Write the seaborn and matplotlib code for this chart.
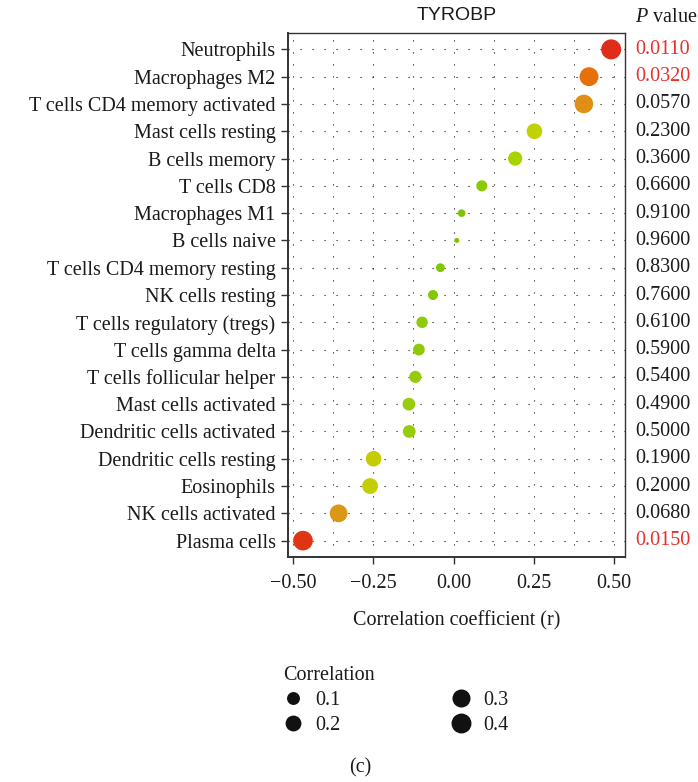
import numpy as np
import pandas as pd
import matplotlib
matplotlib.use("Agg")
import matplotlib.pyplot as plt
import seaborn as sns
from matplotlib.colors import LinearSegmentedColormap
from matplotlib.lines import Line2D
from matplotlib.ticker import MultipleLocator
from matplotlib.transforms import blended_transform_factory

# Immune cell types, top to bottom
cell_types = [
    "Neutrophils", "Macrophages M2", "T cells CD4 memory activated",
    "Mast cells resting", "B cells memory", "T cells CD8", "Macrophages M1",
    "B cells naive", "T cells CD4 memory resting", "NK cells resting",
    "T cells regulatory (tregs)", "T cells gamma delta",
    "T cells follicular helper", "Mast cells activated",
    "Dendritic cells activated", "Dendritic cells resting", "Eosinophils",
    "NK cells activated", "Plasma cells",
]
# Correlation coefficient with TYROBP
correlation = [0.491, 0.422, 0.406, 0.252, 0.192, 0.088, 0.025, 0.010,
               -0.041, -0.064, -0.098, -0.108, -0.119, -0.139, -0.138,
               -0.249, -0.260, -0.358, -0.469]
# P values
p_values = [0.011, 0.032, 0.057, 0.23, 0.36, 0.66, 0.91, 0.96, 0.83, 0.76,
            0.61, 0.59, 0.54, 0.49, 0.50, 0.19, 0.20, 0.068, 0.015]
p_labels = ["0.0110", "0.0320", "0.0570", "0.2300", "0.3600", "0.6600",
            "0.9100", "0.9600", "0.8300", "0.7600", "0.6100", "0.5900",
            "0.5400", "0.4900", "0.5000", "0.1900", "0.2000", "0.0680",
            "0.0150"]
legend_levels = [0.1, 0.2, 0.3, 0.4]
x_ticks = [-0.50, -0.25, 0.00, 0.25, 0.50]

df = pd.DataFrame({"cell": cell_types, "r": correlation, "p": p_values})
df["abs_r"] = df["r"].abs()

W, H, DPI = 698, 782, 100
sns.set_style("white")
plt.rcParams["font.family"] = ["Liberation Serif", "DejaVu Serif"]
plt.rcParams["mathtext.fontset"] = "custom"
plt.rcParams["mathtext.it"] = "Liberation Serif:italic"
plt.rcParams["mathtext.rm"] = "Liberation Serif"
FS = 14.5
TXT = "#1a1a1a"

# p value colour scale: red (significant) -> amber -> yellow-green -> green
pcmap = LinearSegmentedColormap.from_list("pval", [
    (0.00, "#d91f1c"), (0.015, "#e23a16"), (0.032, "#e8720b"),
    (0.06, "#df9416"), (0.075, "#d99b13"), (0.19, "#c6cd02"),
    (0.25, "#bdd500"), (0.36, "#a8d300"), (0.50, "#98cb10"),
    (0.65, "#89ca04"), (1.00, "#78c200"),
])

# size scale: diameter grows with sqrt of rescaled |r|
rmin, rmax = df["abs_r"].min(), df["abs_r"].max()
D_MIN, D_MAX = 5.0, 20.0  # pixels


def diam_pt(v):
    t = np.clip((v - rmin) / (rmax - rmin), 0, 1)
    return (D_MIN + (D_MAX - D_MIN) * np.sqrt(t)) * 72 / DPI


size_map = {v: diam_pt(v) ** 2 for v in df["abs_r"]}

fig = plt.figure(figsize=(W / DPI, H / DPI), dpi=DPI)
L, R, T, B = 288, 625, 33, 557
ax = fig.add_axes([L / W, 1 - B / H, (R - L) / W, (B - T) / H])

sns.scatterplot(data=df, x="r", y="cell", hue="p", palette=pcmap,
                hue_norm=(0, 1), size="abs_r", sizes=size_map,
                linewidth=0, legend=False, ax=ax, zorder=3)

n = len(cell_types)
ax.set_ylim(n - 1 + 0.6, -0.6)
ax.set_xlim(-0.5156, 0.534)
ax.set_xticks(x_ticks)
ax.set_xticklabels([f"{t:.2f}".replace("-", "\u2212") for t in x_ticks])
ax.xaxis.set_minor_locator(MultipleLocator(0.125))

grid_kw = dict(color="#111111", linewidth=0.8, linestyle=(0, (1, 9.8)))
ax.grid(True, which="both", axis="x", **grid_kw)
ax.grid(True, which="major", axis="y", **grid_kw)
ax.set_axisbelow(True)

for side, sp in ax.spines.items():
    sp.set_visible(True)
    sp.set_color("#333333")
    sp.set_linewidth(1.0)
ax.spines["left"].set_linewidth(1.4)
ax.spines["bottom"].set_linewidth(1.4)

ax.tick_params(which="major", direction="out", length=5, width=1.0,
               color="#333333", labelsize=FS, labelcolor=TXT, pad=4,
               left=True, bottom=True)
ax.tick_params(axis="x", which="major", pad=7)
ax.tick_params(which="minor", length=0)
ax.set_ylabel("")
ax.set_xlabel("Correlation coefficient (r)", fontsize=FS, color=TXT,
              labelpad=13)

# title and p value column
ax.text(0.5, 1 + (T - 15) / (B - T), "TYROBP", transform=ax.transAxes,
        ha="center", va="center", fontsize=14, color=TXT,
        family=["Liberation Sans", "DejaVu Sans"])
ax.text(1.03, 1 + (T - 18) / (B - T), r"$\it{P}$ value",
        transform=ax.transAxes, ha="left", va="center", fontsize=FS,
        color=TXT)
trans = blended_transform_factory(ax.transAxes, ax.transData)
for i, (lab, p) in enumerate(zip(p_labels, p_values)):
    ax.text(1.03, i, lab, transform=trans, ha="left", va="center",
            fontsize=FS, color="#e3312b" if p < 0.05 else TXT)

# size legend
handles = [Line2D([], [], marker="o", linestyle="", markersize=diam_pt(v),
                  markerfacecolor="#111111", markeredgecolor="#111111")
           for v in legend_levels]
leg = fig.legend(handles, [f"{v:.1f}" for v in legend_levels],
                 title="Correlation", ncol=2, loc="upper left",
                 bbox_to_anchor=(273 / W, 1 - 656 / H), frameon=False,
                 alignment="left", fontsize=FS, title_fontsize=FS,
                 handlelength=1.0, handletextpad=0.6, columnspacing=5.5,
                 labelspacing=0.3, borderpad=0)
for t in leg.get_texts():
    t.set_color(TXT)
leg.get_title().set_color(TXT)

fig.text(360 / W, 1 - 768 / H, "(c)", ha="center", va="center",
         fontsize=FS, color=TXT)

fig.savefig("out.png", dpi=DPI)
